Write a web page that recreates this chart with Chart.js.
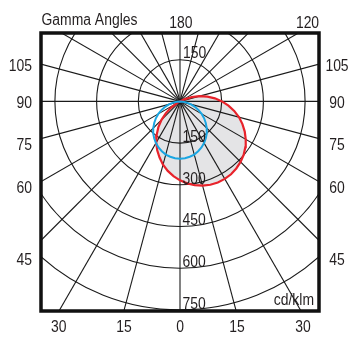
<!DOCTYPE html>
<html>
<head>
<meta charset="utf-8">
<script src="https://cdn.jsdelivr.net/npm/chart.js@4.4.1/dist/chart.umd.min.js"></script>
<style>
  html, body { margin: 0; padding: 0; background: #ffffff; }
  #wrap { width: 360px; height: 344px; }
</style>
</head>
<body>
<div id="wrap"><canvas id="c" width="360" height="344"></canvas></div>
<script>
// ---- data (cd/klm) ----
// red curve, right half-plane (C90), gamma 0..120 step 5
const redGammaRight = [0,5,10,15,20,25,30,35,40,45,50,55,60,65,70,75,80,85,90,95,100,105,110,115,120];
const redRight      = [284,296,306,314,319,322,322,320,315,308,299,287,273,257,239,220,198,175,151,126,100,72,45,17,0];
// red curve, left half-plane (C270), gamma 0..65 step 5
const redGammaLeft  = [0,5,10,15,20,25,30,35,40,45,50,55,60,65];
const redLeft       = [284,270,254,236,215,194,171,146,121,94,67,39,11,0];
// blue curve (C0/C180), gamma 0..90 step 5, both halves
const blueGamma     = [0,5,10,15,20,25,30,35,40,45,50,55,60,65,70,75,80,85,90];
const blueRight     = [206,205,202,198,191,183,173,162,150,136,121,106,90,73,57,41,25,11,0];
const blueLeft      = [206,205,202,198,191,183,173,162,150,136,121,106,90,73,57,41,25,11,0];

// grid
const ringValues   = [150,300,450,600,750,900,1050];
const ringLabelsDown = ['150','300','450','600','750'];
const ringLabelsUp   = ['150'];
const radialAngles = [0,15,30,45,60,75,90,105,120,135,150,165,180,195,210,225,240,255,270,285,300,315,330,345];

// tick labels
const sideTickLabels   = ['105','90','75','60','45'];
const bottomTickLabels = ['30','15','0','15','30'];
const topTickLabels    = ['180','120'];
const titleText = 'Gamma Angles';
const unitText  = 'cd/klm';

// ---- build points ----
const rad = d => d * Math.PI / 180;
function toXY(gamma, val, side) { // side: +1 right, -1 left; gamma 0 = down
  return { x: side * val * Math.sin(rad(gamma)), y: -val * Math.cos(rad(gamma)) };
}
function buildCurve(gL, vL, gR, vR) {
  const pts = [];
  for (let i = gL.length - 1; i >= 0; i--) pts.push(toXY(gL[i], vL[i], -1));
  for (let i = 1; i < gR.length; i++) pts.push(toXY(gR[i], vR[i], 1));
  return pts;
}
const redPts  = buildCurve(redGammaLeft, redLeft, redGammaRight, redRight);
const bluePts = buildCurve(blueGamma, blueLeft, blueGamma, blueRight);

const FONT = "16px 'Liberation Sans Narrow', 'Liberation Sans', Arial, sans-serif";
const TXT = '#231f20';
const SQUEEZE = 0.87;

function txt(ctx, t, x, y, align) {
  ctx.save();
  ctx.translate(x, y);
  ctx.scale(SQUEEZE, 1);
  ctx.textAlign = align;
  ctx.fillText(t, 0, 0);
  ctx.restore();
}

const polarGrid = {
  id: 'polarGrid',
  beforeDatasetsDraw(chart) {
    const { ctx, chartArea: a, scales: { x, y } } = chart;
    const cx = x.getPixelForValue(0), cy = y.getPixelForValue(0);
    ctx.save();
    ctx.beginPath();
    ctx.rect(a.left, a.top, a.right - a.left, a.bottom - a.top);
    ctx.clip();
    // gray fill inside red curve
    ctx.beginPath();
    redPts.forEach((p, i) => {
      const px = x.getPixelForValue(p.x), py = y.getPixelForValue(p.y);
      if (i === 0) ctx.moveTo(px, py); else ctx.lineTo(px, py);
    });
    ctx.closePath();
    ctx.fillStyle = '#e4e4e6';
    ctx.fill();
    // rings
    ctx.strokeStyle = '#1a1a1a';
    ctx.lineWidth = 1.1;
    ringValues.forEach(v => {
      const r = x.getPixelForValue(v) - cx;
      ctx.beginPath();
      ctx.arc(cx, cy, r, 0, Math.PI * 2);
      ctx.stroke();
    });
    // radial lines
    radialAngles.forEach(g => {
      const e = toXY(g, 3000, 1);
      ctx.beginPath();
      ctx.moveTo(cx, cy);
      ctx.lineTo(x.getPixelForValue(e.x), y.getPixelForValue(e.y));
      ctx.stroke();
    });
    ctx.restore();
  },
  afterDraw(chart) {
    const { ctx, chartArea: a, scales: { x, y } } = chart;
    const cx = x.getPixelForValue(0);
    ctx.save();
    // frame
    ctx.strokeStyle = '#111111';
    ctx.lineWidth = 3.5;
    ctx.strokeRect(a.left, a.top, a.right - a.left, a.bottom - a.top);
    // texts
    ctx.fillStyle = TXT;
    ctx.font = FONT;
    ctx.textBaseline = 'alphabetic';
    // ring labels
    ringLabelsDown.forEach((t, i) => {
      txt(ctx, t, cx + 2.5, y.getPixelForValue(-ringValues[i]) - 1, 'left');
    });
    ringLabelsUp.forEach((t, i) => {
      txt(ctx, t, cx + 3, y.getPixelForValue(ringValues[i]) - 1.5, 'left');
    });
    // side labels
    const sideY = [70.8, 107.8, 149.8, 193.3, 264.8];
    sideTickLabels.forEach((t, i) => txt(ctx, t, a.left - 9, sideY[i], 'right'));
    sideTickLabels.forEach((t, i) => txt(ctx, t, a.right + 18, sideY[i], 'center'));
    // bottom labels
    const botX = [58.7, 124, 180, 237, 303];
    bottomTickLabels.forEach((t, i) => txt(ctx, t, botX[i], 331.8, 'center'));
    // top labels
    txt(ctx, topTickLabels[0], 180.8, 28.3, 'center');
    txt(ctx, topTickLabels[1], 307.5, 28.3, 'center');
    txt(ctx, titleText, 41.5, 25, 'left');
    txt(ctx, unitText, a.right - 5, 305, 'right');
    ctx.restore();
  }
};

new Chart(document.getElementById('c'), {
  type: 'scatter',
  data: {
    datasets: [
      { label: 'C0-C180', data: bluePts, showLine: true, borderColor: '#1ba6e2', borderWidth: 2, pointRadius: 0, fill: false, tension: 0 },
      { label: 'C90-C270', data: redPts, showLine: true, borderColor: '#e8232b', borderWidth: 2.2, pointRadius: 0, fill: false, tension: 0 }
    ]
  },
  options: {
    responsive: false,
    animation: false,
    devicePixelRatio: 1,
    layout: { padding: { left: 41, right: 41, top: 33, bottom: 33 } },
    scales: {
      x: { type: 'linear', min: -500, max: 500, display: false },
      y: { type: 'linear', min: -754, max: 246, display: false }
    },
    plugins: { legend: { display: false }, tooltip: { enabled: false }, title: { display: false } }
  },
  plugins: [polarGrid]
});
</script>
</body>
</html>
